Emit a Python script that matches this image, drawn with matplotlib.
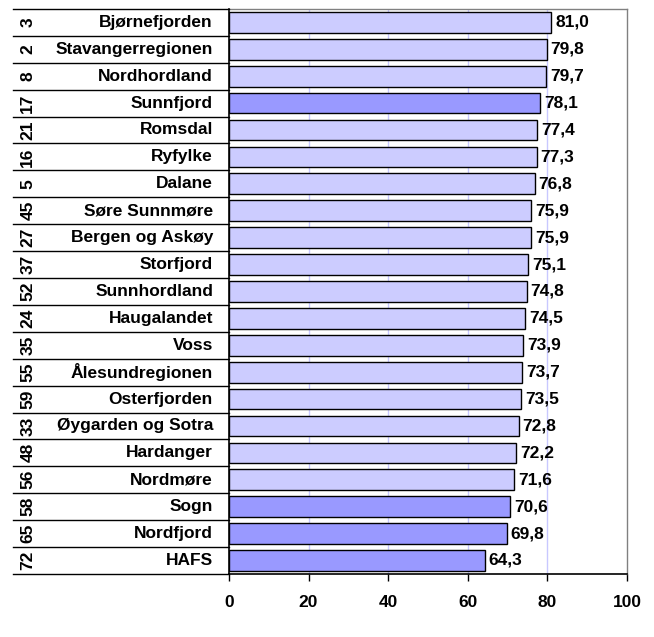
import matplotlib
matplotlib.use("Agg")
import matplotlib.pyplot as plt

ranks = [3, 2, 8, 17, 21, 16, 5, 45, 27, 37, 52, 24, 35, 55, 59, 33, 48, 56, 58, 65, 72]
names = ["Bjørnefjorden", "Stavangerregionen", "Nordhordland", "Sunnfjord", "Romsdal",
         "Ryfylke", "Dalane", "Søre Sunnmøre", "Bergen og Askøy", "Storfjord",
         "Sunnhordland", "Haugalandet", "Voss", "Ålesundregionen", "Osterfjorden",
         "Øygarden og Sotra", "Hardanger", "Nordmøre", "Sogn", "Nordfjord", "HAFS"]
values = [81.0, 79.8, 79.7, 78.1, 77.4, 77.3, 76.8, 75.9, 75.9, 75.1, 74.8, 74.5,
          73.9, 73.7, 73.5, 72.8, 72.2, 71.6, 70.6, 69.8, 64.3]
highlight = ["Sunnfjord", "Sogn", "Nordfjord", "HAFS"]
xticks = [0, 20, 40, 60, 80, 100]

plt.rcParams['font.family'] = ['Liberation Sans', 'DejaVu Sans']
FS = 12.5

fig = plt.figure(figsize=(6.54, 6.37), dpi=100)
ax = fig.add_axes([0.350, 0.0990, 0.6087, 0.8870])

n = len(names)
ypos = list(range(n))
colors = ['#9999FF' if nm in highlight else '#CCCCFF' for nm in names]
ax.barh(ypos, values, height=0.77, color=colors, edgecolor='black', linewidth=1.0, zorder=3)

ax.set_xlim(0, 100)
ax.set_ylim(n - 0.5, -0.5)
ax.set_xticks(xticks)
ax.set_xticklabels([str(t) for t in xticks], fontsize=FS, fontweight='bold')
ax.tick_params(axis='x', direction='out', length=5, width=1, pad=10.5)
ax.set_yticks([])

for t in [20, 40, 60, 80]:
    ax.axvline(t, color='#C8C8FF', linewidth=1.0, zorder=1)

for s in ['top', 'right']:
    ax.spines[s].set_color('#808080')
    ax.spines[s].set_linewidth(1.0)
for s in ['left', 'bottom']:
    ax.spines[s].set_color('black')
    ax.spines[s].set_linewidth(1.2)

trans = ax.get_yaxis_transform()
for i, (r, nm, v) in enumerate(zip(ranks, names, values)):
    ax.text(v + 1.0, i, f"{v:.1f}".replace('.', ','), va='center', ha='left',
            fontsize=FS, fontweight='bold', zorder=4)
    ax.text(-0.040, i, nm, transform=trans, va='center', ha='right',
            fontsize=FS, fontweight='bold')
    ax.text(-0.505, i, str(r), transform=trans, va='center', ha='center',
            rotation=90, fontsize=FS, fontweight='bold')

# table separators
for k in range(n + 1):
    y = k - 0.5
    ax.plot([-0.542, 0], [y, y], transform=trans, color='black', linewidth=1.0,
            clip_on=False, zorder=5)

fig.savefig("out.png", dpi=100)
